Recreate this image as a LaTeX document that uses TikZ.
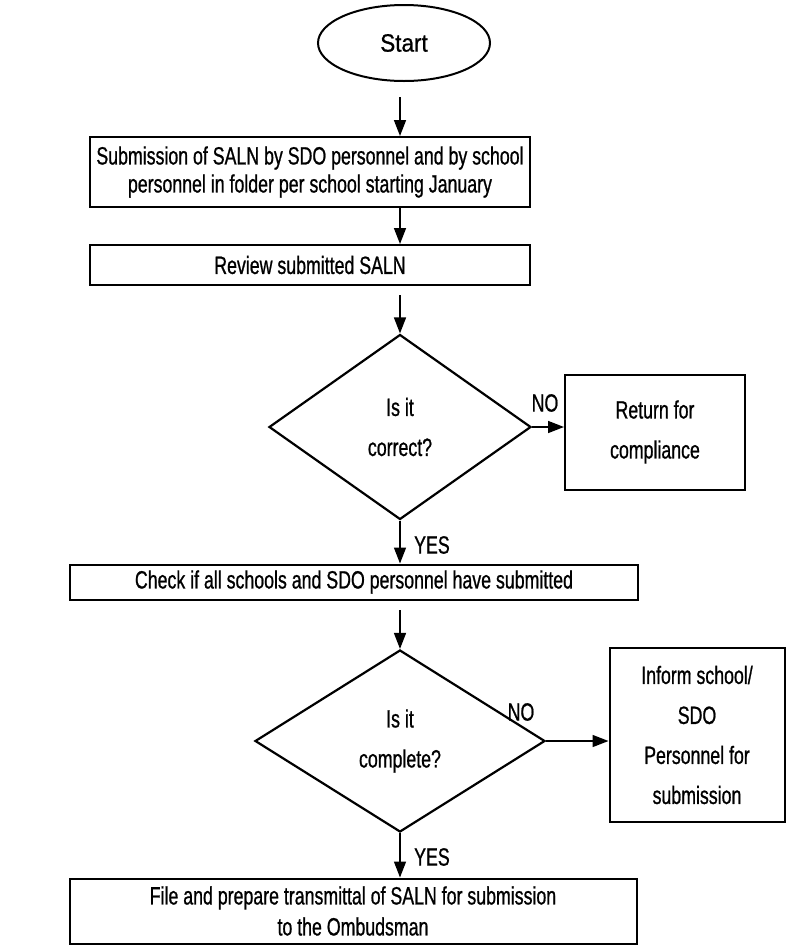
\documentclass[tikz,border=0pt]{standalone}
\usepackage{fontspec}
\setmainfont{Liberation Sans}[FakeStretch=0.71, FakeBold=0.8]
\newfontfamily\startfont{Liberation Sans}[FakeStretch=0.9, FakeBold=0.8]
\usetikzlibrary{shapes.geometric,arrows.meta}
\tikzset{
  txt/.style={font=\fontsize{25}{28}\selectfont},
  box/.style={txt, draw, rectangle, line width=2pt, inner sep=0pt, align=center},
  dec/.style={txt, draw, diamond, line width=2.2pt, inner sep=0pt, align=center},
  arr/.style={line width=1.6pt, -{Triangle[width=12pt,length=16pt]}},
  lbl/.style={txt, inner sep=0pt}
}
\begin{document}
\begin{tikzpicture}[x=1pt,y=-1pt]
\useasboundingbox (0,0) rectangle (812,946);
\node[txt, draw, ellipse, line width=2pt, minimum width=172, minimum height=76] (start) at (404,43) {\startfont Start};
\node[box, minimum width=440, minimum height=70] (b1) at (310,172)
  {Submission of SALN by SDO personnel and by school\\personnel in folder per school starting January};
\node[box, minimum width=440, minimum height=40] (b2) at (310,265) {Review submitted SALN};
\node[dec, minimum width=262, minimum height=185] (d1) at (400,427) {Is it\\[12pt]correct?};
\node[box, minimum width=180, minimum height=115] (ret) at (655,432) {Return for\\[12pt]compliance};
\node[box, minimum width=568, minimum height=35] (b3) at (354,582) {Check if all schools and SDO personnel have submitted};
\node[dec, minimum width=290, minimum height=182] (d2) at (400,741) {Is it\\[12pt]complete?};
\node[box, minimum width=175, minimum height=174] (b4) at (697,735)
  {Inform school/\\[12pt]SDO\\[12pt]Personnel for\\[12pt]submission};
\node[box, minimum width=567, minimum height=65] (b5) at (353,911)
  {File and prepare transmittal of SALN for submission\\[3pt]to the Ombudsman};
\node[lbl] (no1) at (545,403) {NO};
\node[lbl, anchor=west] (yes1) at (414,545) {YES};
\node[lbl] (no2) at (521,712) {NO};
\node[lbl, anchor=west] (yes2) at (414,857) {YES};
\coordinate (s1) at (400,97);
\coordinate (s2) at (400,295);
\coordinate (s3) at (400,610);
\draw[arr] (s1) -- (s1 |- b1.north);
\draw[arr] (b1.south -| s1) -- (b2.north -| s1);
\draw[arr] (s2) -- (d1.north);
\draw[arr] (d1.east) -- (d1.east -| ret.west);
\draw[arr] (d1.south) -- (b3.north -| d1.south);
\draw[arr] (s3) -- (d2.north);
\draw[arr] (d2.east) -- (d2.east -| b4.west);
\draw[arr] (d2.south) -- (b5.north -| d2.south);
\end{tikzpicture}
\end{document}
